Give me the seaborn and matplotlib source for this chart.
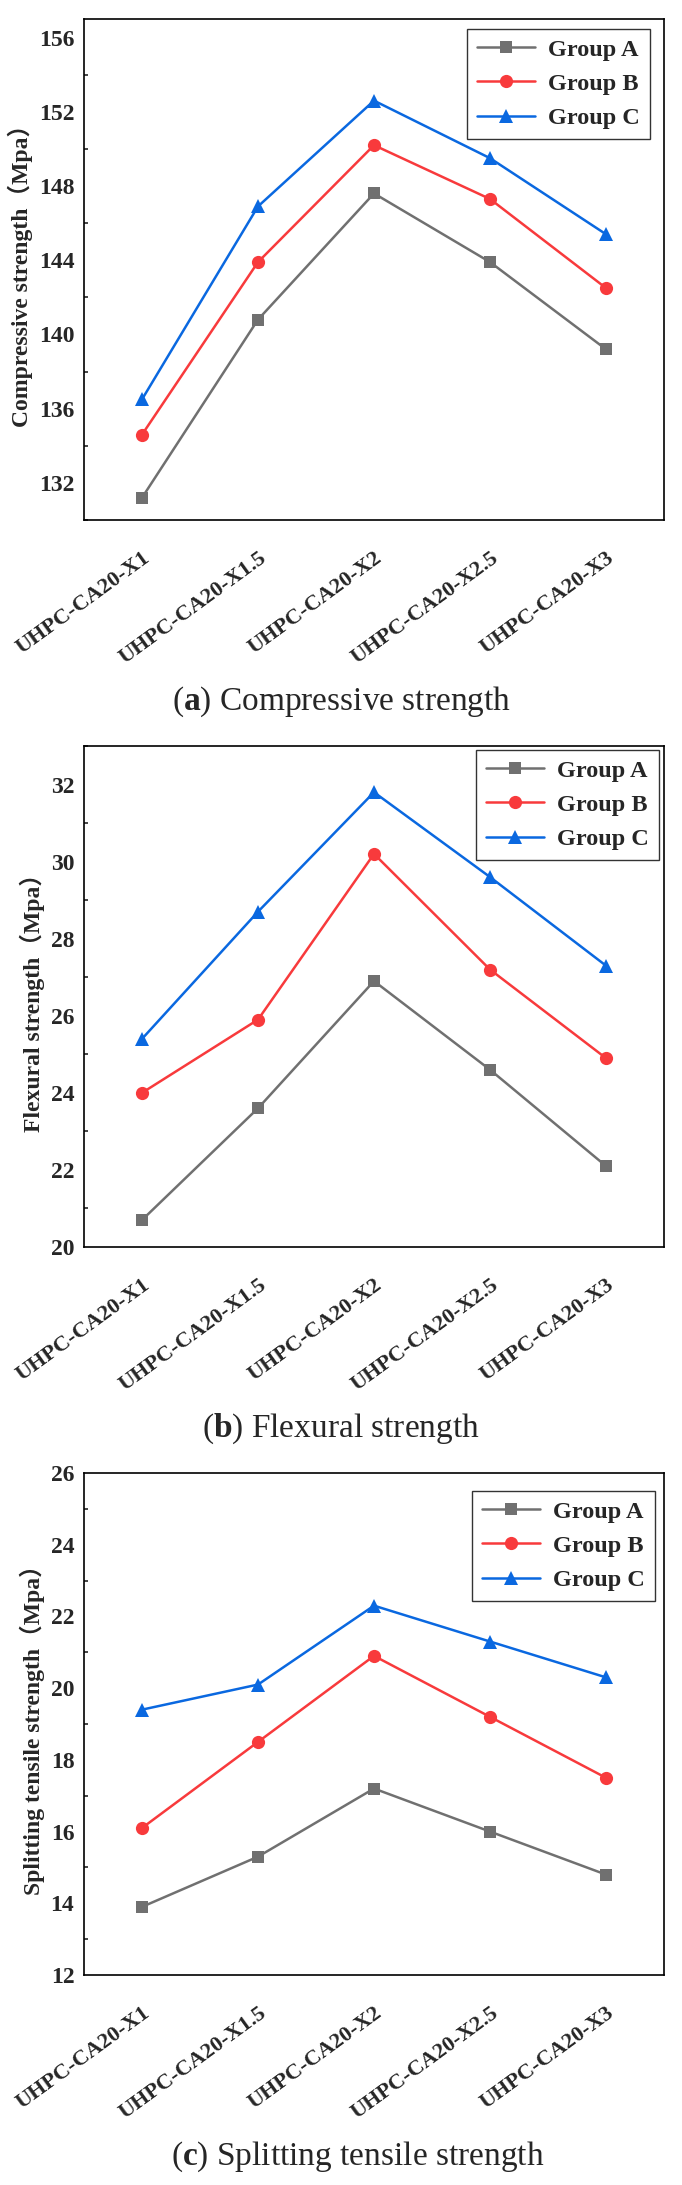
import matplotlib
matplotlib.use("Agg")
import matplotlib.pyplot as plt
import numpy as np
import seaborn as sns
from matplotlib.ticker import MultipleLocator

# Sample names on the x axis
samples = ["UHPC-CA20-X1", "UHPC-CA20-X1.5", "UHPC-CA20-X2", "UHPC-CA20-X2.5", "UHPC-CA20-X3"]
groups = ["Group A", "Group B", "Group C"]

# (a) Compressive strength (MPa)
compressive_a = [131.2, 140.8, 147.6, 143.9, 139.2]
compressive_b = [134.6, 143.9, 150.2, 147.3, 142.5]
compressive_c = [136.5, 146.9, 152.6, 149.5, 145.4]

# (b) Flexural strength (MPa)
flexural_a = [20.7, 23.6, 26.9, 24.6, 22.1]
flexural_b = [24.0, 25.9, 30.2, 27.2, 24.9]
flexural_c = [25.4, 28.7, 31.8, 29.6, 27.3]

# (c) Splitting tensile strength (MPa)
tensile_a = [13.9, 15.3, 17.2, 16.0, 14.8]
tensile_b = [16.1, 18.5, 20.9, 19.2, 17.5]
tensile_c = [19.4, 20.1, 22.3, 21.3, 20.3]

colors = ["#707070", "#f83a3c", "#0a68e0"]
markers = ["s", "o", "^"]
msizes = [8, 9.5, 10.5]

sns.set_style("white")
plt.rcParams["font.family"] = ["Liberation Serif", "Noto Sans CJK SC"]
plt.rcParams["mathtext.fontset"] = "custom"
plt.rcParams["mathtext.rm"] = "Liberation Serif"
plt.rcParams["mathtext.bf"] = "Liberation Serif:bold"

W, H = 682, 2185
fig = plt.figure(figsize=(W / 100, H / 100), dpi=100)

panels = [
    dict(series=[compressive_a, compressive_b, compressive_c],
         ylabel="Compressive strength（Mpa）", caption=r"($\mathbf{a}$) Compressive strength",
         ylim=(130, 157), major=4, minor=2, top=19, bottom=520,
         ylab_x=-0.088, legend=(650, 29), cap_y=702, cap_x=341),
    dict(series=[flexural_a, flexural_b, flexural_c],
         ylabel="Flexural strength（Mpa）", caption=r"($\mathbf{b}$) Flexural strength",
         ylim=(20, 33), major=2, minor=1, top=746, bottom=1247,
         ylab_x=-0.067, legend=(659, 750), cap_y=1429, cap_x=341),
    dict(series=[tensile_a, tensile_b, tensile_c],
         ylabel="Splitting tensile strength（Mpa）", caption=r"($\mathbf{c}$) Splitting tensile strength",
         ylim=(12, 26), major=2, minor=1, top=1473, bottom=1975,
         ylab_x=-0.067, legend=(655, 1491), cap_y=2157, cap_x=358),
]

left, right = 84, 664
x = np.arange(len(samples))

for p in panels:
    ax = fig.add_axes([left / W, 1 - p["bottom"] / H, (right - left) / W, (p["bottom"] - p["top"]) / H])
    for vals, name, c, m, ms in zip(p["series"], groups, colors, markers, msizes):
        sns.lineplot(x=x, y=vals, color=c, marker=m, markersize=ms, markeredgewidth=0,
                     linewidth=1.8, label=name, ax=ax)

    ax.set_xlim(-0.5, 4.5)
    ax.set_ylim(*p["ylim"])
    ax.yaxis.set_major_locator(MultipleLocator(p["major"]))
    ax.yaxis.set_minor_locator(MultipleLocator(p["minor"]))
    ax.set_xticks(x)
    ax.set_xticklabels(samples, rotation=36, ha="right", rotation_mode="anchor",
                       fontsize=16, fontweight="bold")
    for lab in ax.get_yticklabels():
        lab.set_fontsize(17)
        lab.set_fontweight("bold")
    ax.tick_params(axis="both", which="major", direction="in", length=6, width=1.2, color="black")
    ax.tick_params(axis="x", which="major", pad=20)
    ax.tick_params(axis="y", which="major", pad=7)
    ax.tick_params(axis="y", which="minor", direction="in", length=3, width=1.2, left=True)
    for s in ax.spines.values():
        s.set_linewidth(1.2)
        s.set_color("black")
    ax.grid(False)

    ax.set_ylabel(p["ylabel"], fontsize=17, fontweight="bold")
    ax.yaxis.set_label_coords(p["ylab_x"], 0.5)
    ax.set_xlabel("")

    lx, ly = p["legend"]
    leg = ax.legend(loc="upper right", bbox_to_anchor=(lx / W, 1 - ly / H), bbox_transform=fig.transFigure,
                    borderaxespad=0, fancybox=False, framealpha=1, edgecolor="#333333",
                    prop=dict(family="Liberation Serif", weight="bold", size=17.5),
                    handlelength=2.4, handletextpad=0.55, borderpad=0.4, labelspacing=0.5)
    leg.get_frame().set_linewidth(1.0)

    fig.text(p["cap_x"] / W, 1 - p["cap_y"] / H, p["caption"], ha="center", va="center",
             fontsize=24, fontweight="normal", family="Liberation Serif")

fig.savefig("out.png", dpi=100, facecolor="white")
